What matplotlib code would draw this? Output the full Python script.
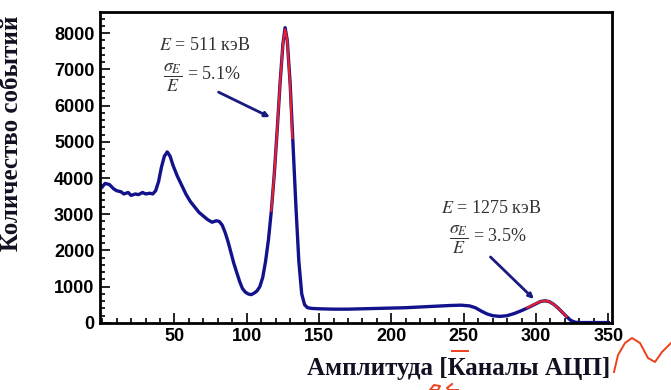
import numpy as np
import matplotlib.pyplot as plt
from matplotlib.ticker import MultipleLocator
from matplotlib.lines import Line2D

plt.rcParams['mathtext.fontset'] = 'stix'

# Spectrum (channel, counts).
channels = [0, 2, 5, 8, 10, 13, 15, 18, 20, 23, 25, 28, 30, 33, 35, 37, 39, 41, 43, 45,
            47, 49, 52, 55, 58, 61, 64, 67, 70, 73, 76, 79, 81, 83, 85, 87, 89, 91, 93,
            95, 97, 99, 101, 103, 105, 107, 109, 111, 113, 115, 117, 119, 121, 123, 125,
            126.5, 128, 130, 132, 134, 136, 138, 140, 142, 145, 150, 160, 170, 180, 190,
            200, 210, 220, 230, 240, 248, 254, 258, 262, 266, 270, 275, 280, 285, 290,
            295, 300, 303, 306, 309, 312, 315, 318, 321, 324, 327, 330, 340, 350]
counts = [3750, 3850, 3820, 3700, 3650, 3620, 3560, 3600, 3520, 3560, 3540, 3600, 3560,
          3580, 3560, 3650, 3900, 4300, 4600, 4720, 4600, 4350, 4050, 3800, 3550, 3350,
          3200, 3050, 2950, 2850, 2780, 2820, 2800, 2700, 2500, 2250, 1950, 1650, 1400,
          1150, 950, 850, 800, 780, 820, 880, 1000, 1250, 1700, 2300, 3100, 4100, 5300,
          6600, 7700, 8150, 7800, 6600, 4900, 3200, 1700, 800, 500, 420, 400, 390, 380,
          380, 390, 400, 410, 420, 440, 460, 480, 490, 470, 420, 330, 250, 200, 180, 200,
          260, 340, 430, 530, 590, 610, 590, 520, 420, 300, 180, 70, 20, 10, 10, 10]

# Gaussian fits (red).
fit1_x = [117, 119, 121, 123, 125, 126.5, 128, 130, 131.5]
fit1_y = [3100, 4100, 5300, 6600, 7700, 8100, 7800, 6500, 5100]
fit2_x = [294, 297, 300, 303, 306, 309, 312, 315, 318, 321]
fit2_y = [420, 480, 540, 590, 610, 590, 520, 420, 300, 180]

fig = plt.figure(figsize=(6.71, 3.9), dpi=100)
ax = fig.add_axes([0.149, 0.172, 0.763, 0.797])

ax.plot(channels, counts, color='#12128c', lw=2.4, zorder=2)
ax.plot(fit1_x, fit1_y, color='#e8202a', lw=1.6, zorder=3)
ax.plot(fit2_x, fit2_y, color='#e8202a', lw=1.6, zorder=3)

ax.set_xlim(-1.5, 352.5)
ax.set_ylim(0, 8580)
ax.xaxis.set_major_locator(MultipleLocator(50))
ax.xaxis.set_minor_locator(MultipleLocator(10))
ax.yaxis.set_major_locator(MultipleLocator(1000))
ax.yaxis.set_minor_locator(MultipleLocator(200))
ax.set_xticks([50, 100, 150, 200, 250, 300, 350])
ax.tick_params(which='both', direction='in', top=False, right=False, width=1.2)
ax.tick_params(which='major', length=7, labelsize=13, pad=4)
ax.tick_params(which='minor', length=3.5)
for lab in ax.get_xticklabels() + ax.get_yticklabels():
    lab.set_fontweight('bold')
    lab.set_family('Liberation Sans')
for sp in ax.spines.values():
    sp.set_linewidth(2)

lbl = dict(family='Liberation Serif', fontweight='bold', fontsize=18, color='#111122')
ax.set_xlabel('Амплитуда [Каналы АЦП]', **lbl)
ax.xaxis.set_label_coords(0.70, -0.11)
ax.set_ylabel('Количество событий', **lbl)
ax.yaxis.set_label_coords(-0.15, 0.61)

note = dict(family='Liberation Serif', fontsize=13, color='#333333', ha='center',
            va='center')
ax.text(71, 7650, r'$E$ = 511 кэВ', **note)
ax.text(69, 6750, r'$\dfrac{\sigma_E}{E}$ = 5.1%', **note)
ax.text(269, 3150, r'$E$ = 1275 кэВ', **note)
ax.text(267, 2300, r'$\dfrac{\sigma_E}{E}$ = 3.5%', **note)

arrow = dict(arrowstyle='-|>', color='#1a1a80', lw=2, mutation_scale=7, shrinkA=0, shrinkB=0)
ax.annotate('', xy=(116, 5680), xytext=(80.5, 6370), arrowprops=arrow)
ax.annotate('', xy=(298.5, 660), xytext=(268.5, 1820), arrowprops=arrow)

# Red hand-drawn marks on the picture.
W, H = 671, 390
def mark(px, py):
    fig.add_artist(Line2D([x / W for x in px], [1 - y / H for y in py],
                          transform=fig.transFigure, color='#f0401a', lw=1.4))
mark([614, 618, 625, 632, 640, 648, 655, 662, 671],
     [372, 355, 343, 338, 343, 358, 362, 352, 343])
mark([452, 468], [351, 351])
mark([430, 434, 440, 438, 432], [390, 385, 386, 390, 390])
mark([452, 447, 449, 458], [384, 388, 390, 390])

fig.savefig('out.png', dpi=100)
